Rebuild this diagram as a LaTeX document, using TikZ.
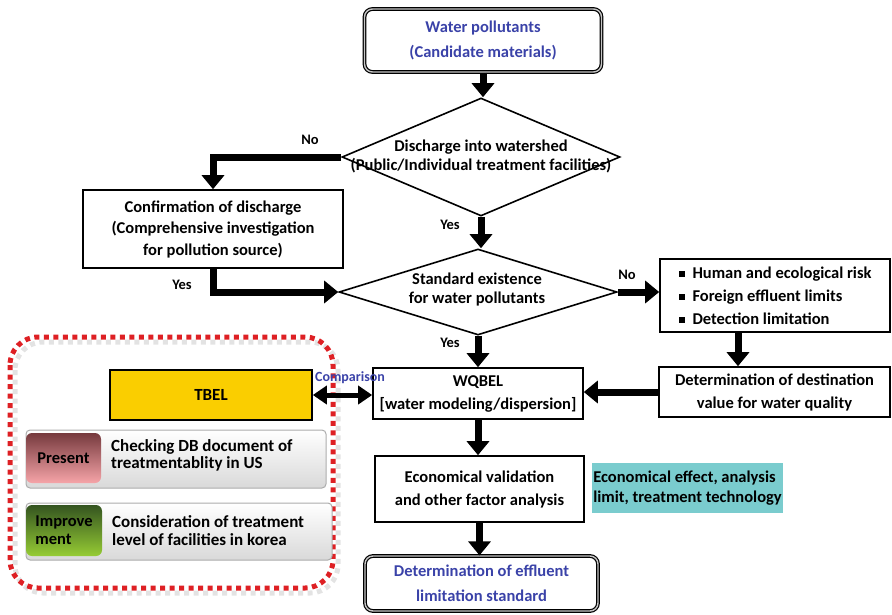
\documentclass[tikz,border=0pt]{standalone}
\usepackage{fontspec}
\setmainfont{Carlito}
\usetikzlibrary{arrows.meta, shapes.geometric, calc}
\definecolor{pollblue}{RGB}{58,66,168}
\definecolor{tbelgold}{RGB}{250,206,0}
\definecolor{factorteal}{RGB}{122,204,206}
\definecolor{dotred}{RGB}{222,32,36}
\definecolor{presenttop}{RGB}{118,58,62}
\definecolor{presentbot}{RGB}{246,164,168}
\definecolor{improvetop}{RGB}{52,84,32}
\definecolor{improvebot}{RGB}{150,204,52}
\newcommand{\sqbullet}{\rule[1.5pt]{6pt}{6pt}\hspace{8pt}}

\begin{document}
\begin{tikzpicture}[x=1pt, y=-1pt,
  font=\fontsize{16.5}{23}\selectfont\bfseries,
  box/.style={draw, line width=1.6pt, align=center, inner sep=0pt},
  endbox/.style={draw, line width=1.2pt, double=gray!45, double distance=1.4pt,
    rounded corners=8pt, align=center, text=pollblue, inner sep=0pt,
    font=\fontsize{16.5}{25}\selectfont\bfseries},
  decision/.style={draw, diamond, line width=1.6pt, inner sep=0pt},
  rowbox/.style={draw=gray!65, line width=1pt, rounded corners=4pt,
    top color=white, bottom color=gray!30},
  tag/.style={rounded corners=6pt, inner sep=0pt},
  flow/.style={line width=7pt, -{Triangle[width=22pt,length=14pt]}},
  compare/.style={line width=5pt,
    {Triangle[width=18pt,length=14pt]}-{Triangle[width=18pt,length=14pt]}},
  lbl/.style={font=\fontsize{14.5}{17}\selectfont\bfseries}]
\useasboundingbox (0,0) rectangle (892,614);
% Dotted frame round the TBEL part, with its grey shadow
\draw [gray!22, line width=5pt, dash pattern=on 5pt off 4.5pt, rounded corners=28pt,
  shift={(5,5)}] (10,337) rectangle (333,588);
\draw [dotred, line width=5pt, dash pattern=on 5pt off 4.5pt, rounded corners=28pt]
  (10,337) rectangle (333,588);
% Main column
\node [endbox, minimum width=237pt, minimum height=63pt] (source) at (483,40.5)
  {Water pollutants\\(Candidate materials)};
\node [decision, minimum width=278pt, minimum height=118pt] (d1) at (481,157) {};
\node [align=center, font=\fontsize{16.5}{19}\selectfont\bfseries] (d1txt) at (481,156.5)
  {Discharge into watershed\\(Public/Individual treatment facilities)};
\node [decision, minimum width=278pt, minimum height=86pt] (d2) at (478,292) {};
\node [align=center, font=\fontsize{16.5}{19}\selectfont\bfseries] (d2txt) at (477,289.5)
  {Standard existence\\for water pollutants};
\node [box, minimum width=260pt, minimum height=78pt,
  font=\fontsize{16.5}{21.5}\selectfont\bfseries] (conf) at (213,229)
  {Confirmation of discharge\\(Comprehensive investigation\\for pollution source)};
\node [box, align=left, minimum width=230pt, minimum height=73pt] (risk) at (775,295.5)
  {\sqbullet Human and ecological risk\\\sqbullet Foreign effluent limits\\\sqbullet Detection limitation};
\node [box, minimum width=231pt, minimum height=50pt] (dest) at (774.5,392)
  {Determination of destination\\value for water quality};
\node [box, minimum width=210pt, minimum height=51pt] (wqbel) at (478,393.5)
  {WQBEL\\[0pt][water modeling/dispersion]};
\node [box, minimum width=209pt, minimum height=66pt] (econ) at (479.5,489)
  {Economical validation\\and other factor analysis};
\node [fill=factorteal, align=left, inner sep=0pt, minimum width=191pt, minimum height=50pt,
  font=\fontsize{16.5}{20}\selectfont\bfseries] (factor) at (687.5,488)
  {Economical effect, analysis\\limit, treatment technology};
\node [endbox, minimum width=233pt, minimum height=55pt] (result) at (481.5,583.5)
  {Determination of effluent\\limitation standard};
% TBEL side
\node [box, fill=tbelgold, minimum width=202pt, minimum height=50pt,
  font=\fontsize{17}{20}\selectfont\bfseries] (tbel) at (211,395) {TBEL};
\node [rowbox, minimum width=300pt, minimum height=58pt] (presentrow) at (176,459) {};
\node [tag, top color=presenttop, bottom color=presentbot, minimum width=75pt,
  minimum height=50pt] (presenttag) at (63.5,458) {Present};
\node [anchor=west, align=left, inner sep=0pt, font=\fontsize{17}{17.5}\selectfont\bfseries]
  (presenttxt) at (111,455.5) {Checking DB document of\\treatmentablity in US};
\node [rowbox, minimum width=306pt, minimum height=57pt] (improverow) at (179,531.5) {};
\node [tag, top color=improvetop, bottom color=improvebot, minimum width=76pt,
  minimum height=51pt, align=left, font=\fontsize{16.5}{18}\selectfont\bfseries]
  (improvetag) at (64,530.5) {Improve\\ment};
\node [anchor=west, align=left, inner sep=0pt, font=\fontsize{17}{17.5}\selectfont\bfseries]
  (improvetxt) at (112,530.5) {Consideration of treatment\\level of facilities in korea};
% Connectors
\draw [flow] (source.south) -- (source.south |- d1.north);
\draw [flow] (d1.west) -| (conf.north);
\draw [flow] (d1.south) -- (d1.south |- d2.north);
\draw [flow] (conf.south) |- (d2.west);
\draw [flow] (d2.east) -- (d2.east -| risk.west);
\draw [flow] ([xshift=-37pt]risk.south) -- ([xshift=-37pt]risk.south |- dest.north);
\draw [flow] (dest.west) -- (dest.west -| wqbel.east);
\draw [flow] (d2.south) -- (d2.south |- wqbel.north);
\draw [flow] (wqbel.south) -- (wqbel.south |- econ.north);
\draw [flow] (econ.south) -- (econ.south |- result.north);
\draw [compare] (tbel.east) -- (tbel.east -| wqbel.west);
% Branch labels
\node [lbl] (nod1) at (310,140) {No};
\node [lbl] (yesd1) at (450,225) {Yes};
\node [lbl] (yesconf) at (182,285) {Yes};
\node [lbl] (nod2) at (627,275) {No};
\node [lbl] (yesd2) at (450,343) {Yes};
\node [text=pollblue, font=\fontsize{14}{16}\selectfont\bfseries] (cmp) at (350,378) {Comparison};
\end{tikzpicture}
\end{document}
